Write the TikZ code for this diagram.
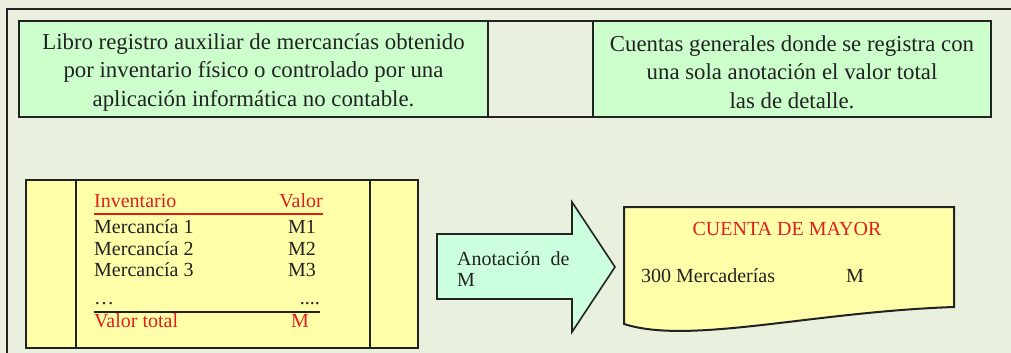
\documentclass[tikz,border=0pt]{standalone}
\usepackage{fontspec}
\setmainfont{Liberation Serif}
\usepackage{tikz}
\usetikzlibrary{calc}
\usetikzlibrary{positioning}

\definecolor{fondo}{RGB}{233,240,221}
\definecolor{verdecaja}{RGB}{204,255,204}
\definecolor{verdeflecha}{RGB}{204,255,221}
\definecolor{amarillo}{RGB}{255,255,170}
\definecolor{rojo}{RGB}{222,30,30}
\definecolor{borde}{RGB}{34,34,34}

\begin{document}
\begin{tikzpicture}[x=1pt,y=-1pt,
	caja/.style={draw=borde,line width=2pt},
	textotop/.style={align=center,font=\rmfamily\fontsize{22.8}{28.5}\selectfont,text=borde,inner sep=0pt},
	texto/.style={font=\rmfamily\fontsize{20}{22}\selectfont,text=borde,inner sep=0pt},
	rojotxt/.style={texto,text=rojo}]
%		fondo y marco
		\fill[fondo] (0,0) rectangle (1011,353);
		\useasboundingbox (0,0) rectangle (1011,353);
		\draw[caja] (1011,9) -- (7,9) -- (7,353);

%		fila de arriba
		\coordinate (t1) at (19,21);
		\coordinate (t2) at (488,117);
		\coordinate (t3) at (593,21);
		\coordinate (t4) at (991,117);
		\draw[caja,fill=verdecaja] (t1) rectangle (t2);
		\draw[caja] (t2) rectangle (t3);
		\draw[caja,fill=verdecaja] (t3) rectangle (t4);
		\node[textotop] (libro) at ($(t1)!0.5!(t2)+(0,3)$)
		{Libro registro auxiliar de mercancías obtenido\\
		por inventario físico o controlado por una\\
		aplicación informática no contable.};
		\node[textotop] (cuentas) at ($(t3)!0.5!(t4)+(0,3)$)
		{Cuentas generales donde se registra con\\
		una sola anotación el valor total\\
		las de detalle.};

%		libro auxiliar
		\draw[caja,fill=amarillo] (26,180) rectangle (418,348);
		\draw[caja] (76,180) -- (76,348);
		\draw[caja] (370,180) -- (370,348);
		\node[rojotxt,anchor=base west] (inv) at (94,207.5) {Inventario};
		\node[rojotxt,anchor=base east] (val) at (323,207.5) {Valor};
		\draw[rojo,line width=1.6pt] (94,214) -- (323,214);
		\foreach \i/\y in {1/233.5,2/255,3/276.5}{
			\node[texto,anchor=base west] (merc\i) at (94,\y) {Mercancía \i};
			\node[texto,anchor=base] (m\i) at (302,\y) {M\i};
		}
		\node[texto,anchor=base west] (pts1) at (94,304) {\dots};
		\node[texto,anchor=base east] (pts2) at (320,304) {....};
		\draw[borde,line width=1.6pt] (94,312) -- (320,312);
		\node[rojotxt,anchor=base west] (vtot) at (94,327) {Valor total};
		\node[rojotxt,anchor=base] (mtot) at (300,327) {M};

%		flecha
		\draw[caja,line width=1.6pt,fill=verdeflecha] (437,234) -- (572,234) -- (572,202)
		-- (615,267) -- (572,332) -- (572,299) -- (437,299) -- cycle;
		\node[texto,anchor=base west] (anot) at (457,265.5) {Anotación\hspace{10pt}de};
		\node[texto,anchor=base west] (anotm) at (457,286) {M};

%		cuenta de mayor
		\draw[caja,fill=amarillo] (624,207) -- (954,207) -- (954,307)
		.. controls (810,312) and (690,345) .. (624,324) -- cycle;
		\node[rojotxt,anchor=base] (mayor) at (787,235) {CUENTA DE MAYOR};
		\node[texto,anchor=base west] (merca) at (641,282) {300 Mercaderías};
		\node[texto,anchor=base] (mm) at (855,282) {M};
	\end{tikzpicture}
\end{document}
